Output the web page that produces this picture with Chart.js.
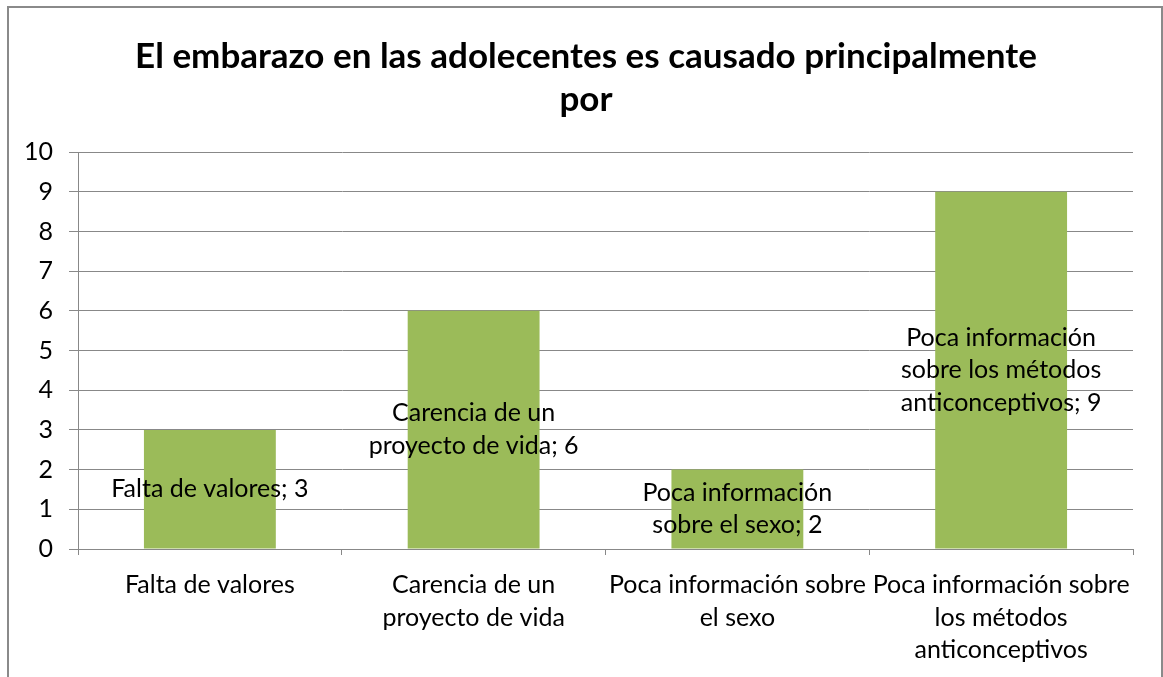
<!DOCTYPE html>
<html>
<head>
<meta charset="utf-8">
<script src="https://cdn.jsdelivr.net/npm/chart.js@4/dist/chart.umd.min.js"></script>
<style>
  html, body { margin: 0; padding: 0; background: #fff; }
  #frame { position: absolute; left: 7px; top: 6px; width: 1152px; height: 700px; border: 2px solid #8a8a8a; }
  #wrap { position: absolute; left: 0; top: 0; width: 1163px; height: 677px; }
</style>
</head>
<body>
<div id="frame"></div>
<div id="wrap"><canvas id="graphCanvas" width="1163" height="677"></canvas></div>
<script>
var titulo = ["El embarazo en las adolecentes es causado principalmente", "por"];
var Causas = [
  ["Falta de valores"],
  ["Carencia de un", "proyecto de vida"],
  ["Poca información sobre", "el sexo"],
  ["Poca información sobre", "los métodos", "anticonceptivos"]
];
// texto de las etiquetas dentro de las barras (el valor se agrega al final)
var Etiquetas = [
  ["Falta de valores"],
  ["Carencia de un", "proyecto de vida"],
  ["Poca información", "sobre el sexo"],
  ["Poca información", "sobre los métodos", "anticonceptivos"]
];
var Respuestas = [3, 6, 2, 9];

var fuente = "Lato, 'Open Sans', sans-serif";

var etiquetasBarras = {
  id: 'etiquetasBarras',
  afterLayout: function(chart){
    // el titulo va centrado un poco mas a la derecha
    chart.titleBlock.left += 39;
  },
  afterDatasetsDraw: function(chart){
    var ctx = chart.ctx;
    var meta = chart.getDatasetMeta(0);
    ctx.save();
    ctx.font = "25px " + fuente;
    ctx.fillStyle = "#000";
    ctx.textAlign = "center";
    ctx.textBaseline = "middle";
    meta.data.forEach(function(bar, i){
      var lineas = Etiquetas[i].slice();
      lineas[lineas.length - 1] += "; " + Respuestas[i];
      var alto = 32.5;
      var centro = (bar.y + bar.base) / 2;
      var y0 = centro - (lineas.length - 1) * alto / 2;
      lineas.forEach(function(t, j){
        ctx.fillText(t, bar.x, y0 + j * alto);
      });
    });
    ctx.restore();
  }
};

var chartdata = {
  labels: Causas,
  datasets: [
    {
      label: 'Respuestas',
      backgroundColor: '#9bbb59',
      borderWidth: 0,
      data: Respuestas,
      barPercentage: 0.5,
      categoryPercentage: 1
    }
  ]
};

var ctx = document.getElementById("graphCanvas");
var barGraph = new Chart(ctx, {
  type: 'bar',
  data: chartdata,
  plugins: [etiquetasBarras],
  options: {
    responsive: false,
    animation: false,
    layout: { padding: { left: 0, right: 30, top: 0, bottom: 0 } },
    plugins: {
      legend: { display: false },
      tooltip: { enabled: false },
      title: {
        display: true,
        text: titulo,
        color: '#000',
        font: { family: fuente, size: 35, weight: 'bold', lineHeight: 1.23 },
        padding: { top: 35, bottom: 31 }
      }
    },
    scales: {
      x: {
        afterFit: function(s){ s.height = 128; },
        grid: { drawOnChartArea: false, drawTicks: true, tickLength: 6, color: '#888', offset: true },
        border: { color: '#888', width: 1 },
        ticks: { color: '#000', font: { family: fuente, size: 25, lineHeight: 1.3 }, padding: 14, maxRotation: 0, autoSkip: false }
      },
      y: {
        min: 0,
        max: 10,
        afterFit: function(s){ s.width = 78; },
        grid: { color: '#888', tickLength: 9 },
        border: { color: '#888', width: 1 },
        ticks: { stepSize: 1, color: '#000', font: { family: fuente, size: 25 }, padding: 16 }
      }
    }
  }
});
</script>
</body>
</html>
